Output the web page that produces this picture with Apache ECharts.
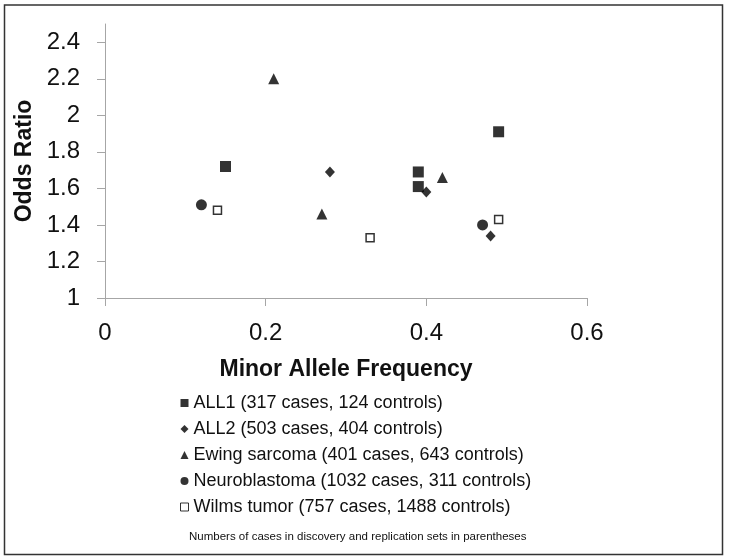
<!DOCTYPE html>
<html>
<head>
<meta charset="utf-8">
<script src="https://cdn.jsdelivr.net/npm/echarts@6/dist/echarts.min.js"></script>
<style>
    html, body { margin: 0; padding: 0; background: #fff; }
    #chart { width: 729px; height: 560px; }
</style>
</head>
<body>
<div id="chart"></div>
<script>
// data: [minor allele frequency, odds ratio]
var seriesNames = [
    'ALL1 (317 cases, 124 controls)',
    'ALL2 (503 cases, 404 controls)',
    'Ewing sarcoma (401 cases, 643 controls)',
    'Neuroblastoma (1032 cases, 311 controls)',
    'Wilms tumor (757 cases, 1488 controls)'
];
var all1 = [[0.15, 1.72], [0.39, 1.69], [0.39, 1.61], [0.49, 1.91]];
var all2 = [[0.28, 1.69], [0.40, 1.58], [0.48, 1.34]];
var ewing = [[0.21, 2.20], [0.27, 1.46], [0.42, 1.66]];
var neuro = [[0.12, 1.51], [0.47, 1.40]];
var wilms = [[0.14, 1.48], [0.33, 1.33], [0.49, 1.43]];

var xTicks = [0, 0.2, 0.4, 0.6];
var yTicks = [1, 1.2, 1.4, 1.6, 1.8, 2, 2.2, 2.4];

var footnote = 'Numbers of cases in discovery and replication sets in parentheses';

var FONT = '"Liberation Sans", Arial, sans-serif';

function mkSeries(name, data, symbol, size, hollow) {
    return {
        name: name,
        type: 'scatter',
        data: data,
        symbol: symbol,
        symbolSize: size,
        itemStyle: hollow
            ? { color: '#fff', borderColor: '#000', borderWidth: 1.5 }
            : { color: '#000' },
        emphasis: { disabled: true }
    };
}

var chart = echarts.init(document.getElementById('chart'), null, { renderer: 'canvas' });

// legend entries (the open square gets a thinner outline, like the picture)
var legendData = seriesNames.map(function(n, i) {
    if (i === 4) {
        return { name: n, itemStyle: { color: '#fff', borderColor: '#000', borderWidth: 1 } };
    }
    return { name: n };
});

var option = {
    backgroundColor: '#fff',
    animation: false,
    textStyle: { fontFamily: FONT },
    title: {
        text: footnote,
        left: 189,
        top: 531,
        padding: 0,
        textStyle: { fontFamily: FONT, fontSize: 11.5, fontWeight: 'normal', color: '#111' }
    },
    graphic: [{
        type: 'rect',
        shape: { x: 4.5, y: 5, width: 718, height: 549.5 },
        style: { fill: 'none', stroke: '#333', lineWidth: 1.5 },
        silent: true
    }],
    grid: { left: 105, right: 142, top: 24, bottom: 262, containLabel: false },
    legend: {
        orient: 'vertical',
        left: 180,
        top: 394,
        padding: 0,
        itemWidth: 8,
        itemHeight: 8,
        itemGap: 8,
        textStyle: { fontFamily: FONT, fontSize: 18, color: '#111', lineHeight: 18 },
        data: legendData
    },
    xAxis: {
        type: 'value',
        min: 0,
        max: 0.6,
        interval: 0.2,
        name: 'Minor Allele Frequency',
        nameLocation: 'middle',
        nameGap: 60,
        nameTextStyle: { fontFamily: FONT, fontSize: 23, fontWeight: 'bold', color: '#111' },
        axisLine: { show: true, lineStyle: { color: '#a6a6a6', width: 1 } },
        axisTick: { show: true, length: 8, lineStyle: { color: '#a6a6a6' }, customValues: xTicks },
        axisLabel: { fontSize: 24, color: '#111', margin: 23, customValues: xTicks },
        splitLine: { show: false }
    },
    yAxis: {
        type: 'value',
        min: 1,
        max: 2.5,
        interval: 0.2,
        name: 'Odds Ratio',
        nameLocation: 'middle',
        nameGap: 68,
        nameTextStyle: { fontFamily: FONT, fontSize: 23, fontWeight: 'bold', color: '#111' },
        axisLine: { show: true, lineStyle: { color: '#a6a6a6', width: 1 } },
        axisTick: { show: true, length: 8, lineStyle: { color: '#a6a6a6' }, customValues: yTicks },
        axisLabel: { fontSize: 24, color: '#111', margin: 25, customValues: yTicks },
        splitLine: { show: false }
    },
    series: [
        mkSeries(seriesNames[0], all1, 'rect', 11, false),
        mkSeries(seriesNames[1], all2, 'diamond', [10, 11], false),
        mkSeries(seriesNames[2], ewing, 'triangle', 11, false),
        mkSeries(seriesNames[3], neuro, 'circle', 11, false),
        mkSeries(seriesNames[4], wilms, 'rect', 8, true)
    ]
};

chart.setOption(option);
</script>
</body>
</html>
